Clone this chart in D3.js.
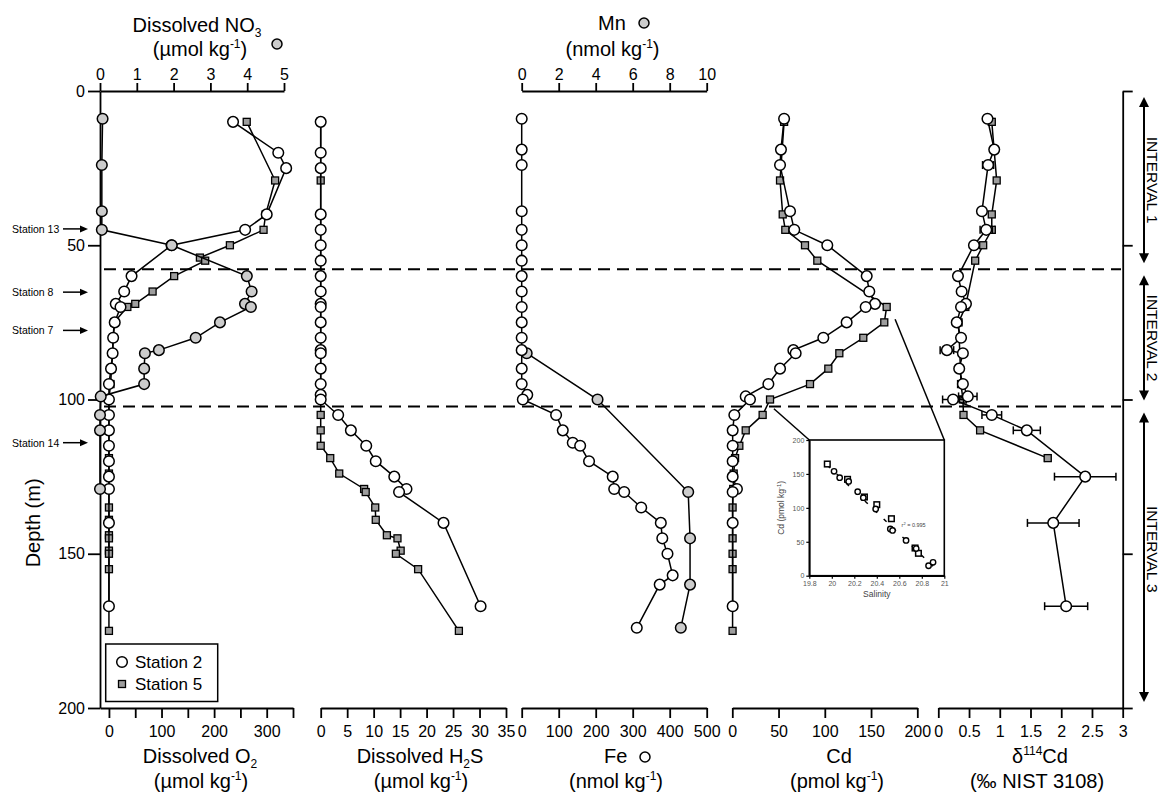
<!DOCTYPE html>
<html>
<head>
<meta charset="utf-8">
<script src="https://cdn.jsdelivr.net/npm/d3@7"></script>
<style>
  body { margin: 0; background: #fff; }
  svg { font-family: "Liberation Sans", Arial, Helvetica, sans-serif; }
</style>
</head>
<body>
<svg id="chart" width="1162" height="792"></svg>
<script>
// ---- data: [depth (m), value] ----
const o2St2 = [[10,236],[20,322],[25,337],[40,300],[45,259],[50,119],[60,43],[65,29],[69,13],[70,22],[75,11],[80,8],[85,7],[90,4],[95,0],[100,0],[105,0],[110,0],[115,0],[120,0],[125,0],[129,0],[140,0],[167,0]];
const o2St5 = [[10,262],[29,316],[40,298],[45,294],[50,230],[54,173],[55,183],[60,124],[65,83],[69,50],[70,35],[75,10],[80,8],[85,7],[90,5],[95,3],[100,0],[105,0],[110,0],[115,0],[119,0],[124,0],[129,0],[135,0],[139,0],[144,0],[145,0],[149,0],[150,0],[155,0],[175,0]];
const no3 = [[9,0.07],[24,0.05],[39,0.05],[45,0.05],[50,1.95],[60,3.99],[65,4.12],[69,3.94],[70,4.1],[75,3.26],[80,2.6],[84,1.6],[85,1.22],[90,1.2],[95,1.2],[99,0.02],[105,0],[110,0],[129,0]];

const h2sSt2 = [[10,0],[20,0],[25,0],[40,0],[45,0],[50,0],[55,0],[60,0],[65,0],[69,0],[70,0],[75,0],[80,0],[84,0],[85,0],[90,0],[95,0],[98.5,0],[100,0],[105,3.3],[110,5.7],[115,8.6],[120,10.4],[125,13.9],[129,16.2],[130,14.8],[140,23.2],[167,30.2]];
const h2sSt5 = [[10,0],[29,0],[40,0],[45,0],[55,0],[105,0],[110,0],[115,0],[119,1.8],[124,3.5],[129,8.2],[130,8.5],[135,10.3],[139,10.4],[144,12.5],[145,14.5],[149,15.1],[150,14.2],[155,18.4],[175,26.1]];

const feSt2 = [[9,0],[19,0],[24,0],[39,0],[45,0],[50,0],[55,0],[60,0],[65,0],[70,0],[75,0],[80,0],[84,0],[90,0],[95,0],[98.5,15],[100,3],[105,93],[110,111],[114,138],[115,158],[120,182],[125,246],[129,250],[130,277],[135,323],[140,376],[145,380],[150,394],[157,408],[160,373],[174,311]];
const mn = [[85,0.27],[100,4.1],[130,9.0],[145,9.1],[160,9.1],[174,8.6]];

const cdSt2 = [[9,56],[19,52.6],[24,51.6],[39,62.4],[45,67],[50,102.7],[60,145.3],[65,148.1],[69,154.3],[70,144.2],[75,123.6],[80,98.4],[84,66],[85,68.5],[90,51.6],[95,39],[99,14.5],[100,19.1],[105,2.2],[110,0.4],[115,0.4],[120,0.4],[125,0.4],[129,5],[130,0.4],[140,0.4],[167,0.4]];
const cdSt5 = [[10,56],[29,51.6],[40,54.5],[45,57.3],[50,78.6],[55,91.9],[70,166.9],[75,164.3],[80,141.6],[85,115.7],[90,103.8],[95,84],[100,40.8],[105,32.8],[110,14.5],[115,7.6],[119,3],[124,1.5],[129,1],[135,0.3],[145,0.3],[150,0.3],[155,0.3],[175,0.3]];

// [depth, d114Cd, 2SD]
const dCdSt2 = [[9,0.80,0.03],[19,0.91,0],[24,0.81,0.09],[39,0.71,0.05],[45,0.78,0.1],[50,0.58,0],[60,0.32,0],[65,0.38,0],[69,0.45,0],[70,0.37,0],[75,0.30,0.03],[80,0.37,0],[84,0.14,0.11],[85,0.40,0],[90,0.34,0],[95,0.40,0],[99,0.48,0.15],[100,0.24,0.17],[105,0.87,0.16],[110,1.44,0.22],[125,2.39,0.5],[140,1.87,0.42],[167,2.08,0.35]];
const dCdSt5 = [[10,0.87,0.03],[29,0.95,0],[40,0.87,0],[45,0.87,0.05],[50,0.73,0],[55,0.60,0],[70,0.44,0],[75,0.33,0],[95,0.37,0],[100,0.40,0],[105,0.41,0],[110,0.68,0],[119,1.78,0.05]];

// inset: [salinity, Cd]
const salSt2 = [[20.02,153.8],[20.07,144.5],[20.15,139],[20.23,123.8],[20.28,115],[20.39,98.3],[20.52,68.8],[20.54,66.8],[20.66,52],[20.75,40],[20.86,14.7],[20.90,19.7]];
const salSt5 = [[19.96,164.6],[20.14,142],[20.29,116],[20.40,104.7],[20.53,84],[20.74,40.8],[20.77,33]];
const salFit = [[19.96,163],[20.90,14]];

const depthTicks = [0, 50, 100, 150, 200];
const stationNames = ['Station 13', 'Station 8', 'Station 7', 'Station 14'];
const stationDepths = [44.7, 65.2, 77.6, 114];
const intervalNames = ['INTERVAL 1', 'INTERVAL 2', 'INTERVAL 3'];
const intervalBounds = [0, 57.8, 102.3, 200];

// ---- scales ----
const svg = d3.select('#chart');
const y = d3.scaleLinear().domain([0, 200]).range([91, 708]);
const xO2 = d3.scaleLinear().domain([-17, 350]).range([100, 293]);
const xNO3 = d3.scaleLinear().domain([0, 5]).range([100, 284]);
const xH2S = d3.scaleLinear().domain([0, 35]).range([320.7, 506]);
const xFe = d3.scaleLinear().domain([0, 500]).range([521.7, 706.7]);
const xMn = d3.scaleLinear().domain([0, 10]).range([521.7, 706.7]);
const xCd = d3.scaleLinear().domain([0, 200]).range([732.3, 917.3]);
const xD = d3.scaleLinear().domain([0, 3]).range([938.3, 1122.7]);
const xS = d3.scaleLinear().domain([19.8, 21]).range([809.3, 944.3]);
const yS = d3.scaleLinear().domain([0, 200]).range([575.7, 440]);

const GREY_SQ = '#9d9d9d', GREY_CI = '#cccccc';

function styleAxis(g, size) {
  g.selectAll('.domain').attr('stroke', '#000').attr('stroke-width', 1.8);
  g.selectAll('.tick line').attr('stroke', '#000').attr('stroke-width', 1.8);
  g.selectAll('.tick text').attr('fill', '#000').style('font-size', (size || 16) + 'px')
    .style('font-family', '"Liberation Sans", Arial, sans-serif');
}

function bottomAxis(scale, ticks, fmt) {
  const g = svg.append('g').attr('transform', `translate(0,${y(200)})`)
    .call(d3.axisBottom(scale).tickValues(ticks).tickSize(10).tickPadding(8).tickSizeOuter(0).tickFormat(fmt || d3.format('')));
  styleAxis(g);
}
function topAxis(scale, ticks) {
  const g = svg.append('g').attr('transform', `translate(0,${y(0)})`)
    .call(d3.axisTop(scale).tickValues(ticks).tickSize(8).tickPadding(3).tickSizeOuter(0).tickFormat(d3.format('')));
  styleAxis(g);
}

// dashed interval boundaries
svg.append('g').selectAll('line')
  .data(intervalBounds.slice(1, 3))
  .join('line')
    .attr('x1', 104).attr('x2', 1121)
    .attr('y1', d => y(d)).attr('y2', d => y(d))
    .attr('stroke', '#000').attr('stroke-width', 2)
    .attr('stroke-dasharray', '12,7');

// axes
const yAx = svg.append('g').attr('transform', `translate(${xO2.range()[0]},0)`)
  .call(d3.axisLeft(y).tickValues(depthTicks).tickSize(12).tickPadding(3).tickSizeOuter(0));
styleAxis(yAx);

bottomAxis(xO2, d3.range(0, 351, 50), d => d % 100 === 0 ? d : '');
bottomAxis(xH2S, d3.range(0, 36, 5));
bottomAxis(xFe, d3.range(0, 501, 100));
bottomAxis(xCd, d3.range(0, 201, 50));
bottomAxis(xD, [0, 0.5, 1, 1.5, 2, 2.5, 3]);
topAxis(xNO3, [0, 1, 2, 3, 4, 5]);
topAxis(xMn, [0, 2, 4, 6, 8, 10]);

const rAx = svg.append('g').attr('transform', `translate(${xD.range()[1]},0)`)
  .call(d3.axisRight(y).tickValues(depthTicks).tickSize(10).tickSizeOuter(0).tickFormat(''));
styleAxis(rAx);

// ---- series drawing ----
function drawLine(data, xs) {
  svg.append('path').datum(data)
    .attr('fill', 'none').attr('stroke', '#000').attr('stroke-width', 1.5)
    .attr('d', d3.line().x(d => xs(d[1])).y(d => y(d[0])));
}
function drawSquares(data, xs, s) {
  s = s || 7;
  svg.append('g').selectAll('rect').data(data).join('rect')
    .attr('x', d => xs(d[1]) - s / 2).attr('y', d => y(d[0]) - s / 2)
    .attr('width', s).attr('height', s)
    .attr('fill', GREY_SQ).attr('stroke', '#000').attr('stroke-width', 1.3);
}
function drawCircles(data, xs, fill) {
  svg.append('g').selectAll('circle').data(data).join('circle')
    .attr('cx', d => xs(d[1])).attr('cy', d => y(d[0])).attr('r', 5.3)
    .attr('fill', fill).attr('stroke', '#000').attr('stroke-width', 1.5);
}
function drawErrors(data, xs) {
  const g = svg.append('g').attr('stroke', '#000').attr('stroke-width', 1.5);
  data.filter(d => d[2] > 0).forEach(d => {
    const cy = y(d[0]), a = xs(d[1] - d[2]), b = xs(d[1] + d[2]);
    g.append('line').attr('x1', a).attr('x2', b).attr('y1', cy).attr('y2', cy);
    g.append('line').attr('x1', a).attr('x2', a).attr('y1', cy - 4).attr('y2', cy + 4);
    g.append('line').attr('x1', b).attr('x2', b).attr('y1', cy - 4).attr('y2', cy + 4);
  });
}

// O2 + NO3
drawLine(o2St5, xO2); drawSquares(o2St5, xO2);
drawLine(o2St2, xO2); drawCircles(o2St2, xO2, '#fff');
drawLine(no3, xNO3); drawCircles(no3, xNO3, GREY_CI);
// H2S
drawLine(h2sSt5, xH2S); drawSquares(h2sSt5, xH2S);
drawLine(h2sSt2, xH2S); drawCircles(h2sSt2, xH2S, '#fff');
// Fe + Mn
drawLine(mn, xMn); drawCircles(mn, xMn, GREY_CI);
drawLine(feSt2, xFe); drawCircles(feSt2, xFe, '#fff');
// Cd
drawLine(cdSt5, xCd); drawSquares(cdSt5, xCd);
drawLine(cdSt2, xCd); drawCircles(cdSt2, xCd, '#fff');
// d114Cd
drawErrors(dCdSt5, xD); drawLine(dCdSt5, xD); drawSquares(dCdSt5, xD);
drawErrors(dCdSt2, xD); drawLine(dCdSt2, xD); drawCircles(dCdSt2, xD, '#fff');

// ---- inset (Cd vs salinity) ----
svg.append('line').attr('x1', xCd(45)).attr('y1', y(103)).attr('x2', xS(19.8)).attr('y2', yS(200))
  .attr('stroke', '#000').attr('stroke-width', 1.5);
svg.append('line').attr('x1', xCd(176)).attr('y1', y(74)).attr('x2', xS(21)).attr('y2', yS(200))
  .attr('stroke', '#000').attr('stroke-width', 1.5);
svg.append('rect').attr('x', xS(19.8)).attr('y', yS(200))
  .attr('width', xS(21) - xS(19.8)).attr('height', yS(0) - yS(200))
  .attr('fill', '#fff').attr('stroke', '#000').attr('stroke-width', 1.6);

const inX = svg.append('g').attr('transform', `translate(0,${yS(0)})`)
  .call(d3.axisBottom(xS).tickValues([19.8, 20, 20.2, 20.4, 20.6, 20.8, 21]).tickSize(3).tickPadding(2).tickSizeOuter(0).tickFormat(d3.format('')));
const inY = svg.append('g').attr('transform', `translate(${xS(19.8)},0)`)
  .call(d3.axisLeft(yS).tickValues([0, 50, 100, 150, 200]).tickSize(3).tickPadding(2).tickSizeOuter(0));
[inX, inY].forEach(g => {
  g.selectAll('.domain').attr('stroke', '#000').attr('stroke-width', 1.6);
  g.selectAll('.tick line').attr('stroke', '#000').attr('stroke-width', 1.2);
  g.selectAll('.tick text').attr('fill', '#555').style('font-size', '7px');
});
svg.append('path').datum(salFit)
  .attr('fill', 'none').attr('stroke', '#000').attr('stroke-width', 1.5).attr('stroke-dasharray', '4,9')
  .attr('d', d3.line().x(d => xS(d[0])).y(d => yS(d[1])));
svg.append('g').selectAll('rect').data(salSt5).join('rect')
  .attr('x', d => xS(d[0]) - 2.8).attr('y', d => yS(d[1]) - 2.8).attr('width', 5.6).attr('height', 5.6)
  .attr('fill', '#fff').attr('stroke', '#000').attr('stroke-width', 1.5);
svg.append('g').selectAll('circle').data(salSt2).join('circle')
  .attr('cx', d => xS(d[0])).attr('cy', d => yS(d[1])).attr('r', 2.7)
  .attr('fill', '#fff').attr('stroke', '#000').attr('stroke-width', 1.4);
svg.append('text').attr('x', xS(20.62)).attr('y', yS(72)).style('font-size', '5.5px').attr('fill', '#444')
  .html('r<tspan dy="-2" font-size="4px">2</tspan><tspan dy="2"> = 0.995</tspan>');
svg.append('text').attr('x', (xS(19.8) + xS(21)) / 2).attr('y', yS(0) + 21)
  .attr('text-anchor', 'middle').style('font-size', '8.5px').attr('fill', '#444').text('Salinity');
svg.append('text').attr('transform', `translate(${xS(19.8) - 25},${yS(100)}) rotate(-90)`)
  .attr('text-anchor', 'middle').style('font-size', '8.5px').attr('fill', '#444')
  .html('Cd (pmol kg<tspan dy="-3" font-size="6px">-1</tspan><tspan dy="3">)</tspan>');

// ---- titles ----
function title(x, yy, html, size) {
  return svg.append('text').attr('x', x).attr('y', yy).attr('text-anchor', 'middle')
    .style('font-size', (size || 20) + 'px').attr('fill', '#000').html(html);
}
const SUB = t => `<tspan dy="5" font-size="12px">${t}</tspan><tspan dy="-5">`;
const UNIT = u => `(${u} kg<tspan dy="-8" font-size="12px">-1</tspan><tspan dy="8">)</tspan>`;

title(197, 32, 'Dissolved NO' + SUB('3') + '</tspan>');
title(200, 56, UNIT('µmol'));
svg.append('circle').attr('cx', 277).attr('cy', 44).attr('r', 5).attr('fill', GREY_CI).attr('stroke', '#000').attr('stroke-width', 1.5);

svg.append('text').attr('x', 598).attr('y', 30).style('font-size', '20px').text('Mn');
svg.append('circle').attr('cx', 644).attr('cy', 23).attr('r', 5).attr('fill', GREY_CI).attr('stroke', '#000').attr('stroke-width', 1.5);
title(612.5, 56, UNIT('nmol'));

title(200, 763, 'Dissolved O' + SUB('2') + '</tspan>');
title(201, 788, UNIT('µmol'));
title(420, 763, 'Dissolved H' + SUB('2') + 'S</tspan>');
title(421, 788, UNIT('µmol'));
svg.append('text').attr('x', 604).attr('y', 763).style('font-size', '20px').text('Fe');
svg.append('circle').attr('cx', 645).attr('cy', 757).attr('r', 5).attr('fill', '#fff').attr('stroke', '#000').attr('stroke-width', 1.5);
title(616, 788, UNIT('nmol'));
title(839, 763, 'Cd');
title(837, 788, UNIT('pmol'));
title(1040, 763, 'δ<tspan dy="-8" font-size="12px">114</tspan><tspan dy="8">Cd</tspan>');
title(1037, 788, '(‰ NIST 3108)');

svg.append('text').attr('transform', `translate(40,${y(140)}) rotate(-90)`)
  .attr('text-anchor', 'middle').style('font-size', '20px').text('Depth (m)');

// legend
const leg = svg.append('g');
leg.append('rect').attr('x', 105.7).attr('y', 644).attr('width', 112).attr('height', 57.5)
  .attr('fill', '#fff').attr('stroke', '#000').attr('stroke-width', 1.5);
leg.append('circle').attr('cx', 122).attr('cy', 662).attr('r', 5.3).attr('fill', '#fff').attr('stroke', '#000').attr('stroke-width', 1.5);
leg.append('rect').attr('x', 118.5).attr('y', 680.5).attr('width', 7).attr('height', 7).attr('fill', GREY_SQ).attr('stroke', '#000').attr('stroke-width', 1.3);
leg.append('text').attr('x', 135).attr('y', 668).style('font-size', '17px').text('Station 2');
leg.append('text').attr('x', 135).attr('y', 690).style('font-size', '17px').text('Station 5');

// station markers
stationNames.forEach((s, i) => {
  const yy = y(stationDepths[i]);
  svg.append('text').attr('x', 12).attr('y', yy + 4).style('font-size', '10.5px').text(s);
  svg.append('line').attr('x1', 63).attr('x2', 82).attr('y1', yy).attr('y2', yy).attr('stroke', '#000').attr('stroke-width', 1.5);
  svg.append('path').attr('d', `M${88},${yy}L${80},${yy - 3.5}L${80},${yy + 3.5}Z`).attr('fill', '#000');
});

// interval arrows
const ax = 1144;
intervalNames.forEach((name, i) => {
  const y0 = y(intervalBounds[i]) + 6, y1 = y(intervalBounds[i + 1]) - 6;
  svg.append('line').attr('x1', ax).attr('x2', ax).attr('y1', y0 + 6).attr('y2', y1 - 6).attr('stroke', '#000').attr('stroke-width', 2);
  svg.append('path').attr('d', `M${ax},${y0}L${ax - 5},${y0 + 10}L${ax + 5},${y0 + 10}Z`).attr('fill', '#000');
  svg.append('path').attr('d', `M${ax},${y1}L${ax - 5},${y1 - 10}L${ax + 5},${y1 - 10}Z`).attr('fill', '#000');
  svg.append('text').attr('transform', `translate(1147,${(y0 + y1) / 2 - (i == 2 ? 8 : 0)}) rotate(90)`)
    .attr('text-anchor', 'middle').style('font-size', '15.5px').text(name);
});
</script>
</body>
</html>
